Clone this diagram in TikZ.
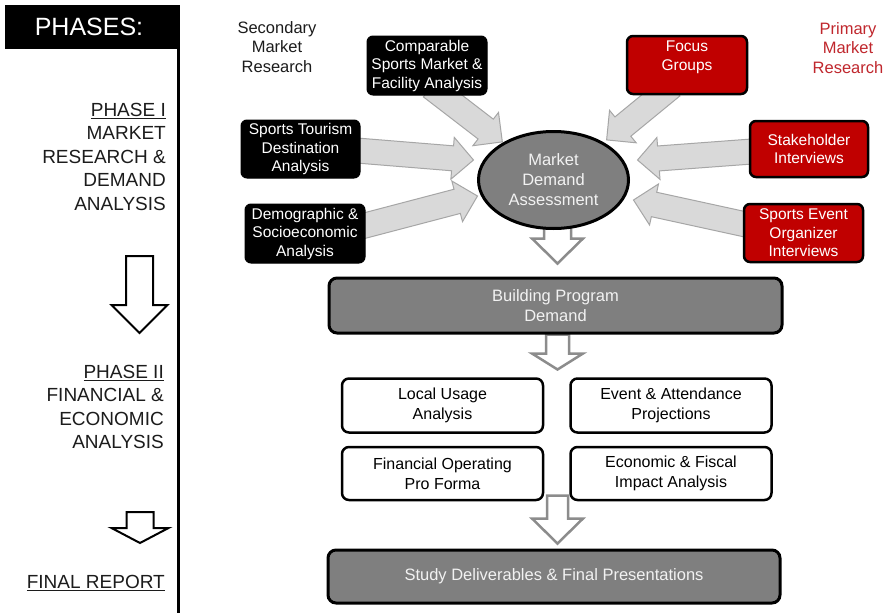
\documentclass[tikz,border=0pt]{standalone}
\usepackage{fontspec}
\setmainfont{Liberation Sans}
\usetikzlibrary{calc,shapes.geometric}
\pgfdeclarelayer{backfill}
\pgfdeclarelayer{background}
\pgfsetlayers{backfill,background,main}

\definecolor{redbox}{HTML}{C00000}
\definecolor{midgray}{HTML}{7F7F7F}
\definecolor{lightarrow}{HTML}{D9D9D9}
\definecolor{arrowedge}{HTML}{A6A6A6}
\definecolor{outlinegray}{HTML}{8C8C8C}
\definecolor{primred}{HTML}{C0272D}
\definecolor{inkgray}{HTML}{1C1C1C}

\newcommand\fsbox{\fontsize{15.5}{18.5}\selectfont}
\newcommand\fswhite{\fontsize{16}{20}\selectfont}
\newcommand\fsbig{\fontsize{16.5}{19.5}\selectfont}
\newcommand\fsphase{\fontsize{19}{23.5}\selectfont}

% #1 style, #2 start, #3 tip, #4 shaft half width, #5 head half width, #6 head length
\newcommand\bigarrow[6]{%
  \path let \p1=(#2), \p2=(#3) in \pgfextra{%
    \pgfmathparse{atan2(\y2-\y1,\x2-\x1)}\xdef\baang{\pgfmathresult}%
    \pgfmathparse{veclen(\x2-\x1,\y2-\y1)}\xdef\balen{\pgfmathresult}%
    \pgfmathparse{\balen-#6}\xdef\babase{\pgfmathresult}%
    \xdef\bax{\x1}\xdef\bay{\y1}};
  \begin{scope}[shift={(\bax,\bay)},rotate=\baang]
    \draw[#1] (0pt,#4pt) -- (\babase pt,#4pt) -- (\babase pt,#5pt) -- (\balen pt,0pt)
      -- (\babase pt,-#5pt) -- (\babase pt,-#4pt) -- (0pt,-#4pt) -- cycle;
  \end{scope}}

\tikzset{
  darkbox/.style={draw=black, fill=black, rounded corners=6pt, line width=1pt,
    text=white, align=center, inner sep=0pt, font=\fsbox},
  redbx/.style={draw=black, fill=redbox, rounded corners=6pt, line width=2.5pt,
    text=white, align=center, inner sep=0pt, font=\fsbox},
  whitebox/.style={draw=black, fill=white, rounded corners=7pt, line width=2.5pt,
    text=black, align=center, inner sep=0pt, font=\fswhite,
    minimum width=201pt, minimum height=54pt},
  graybox/.style={draw=black, fill=midgray, rounded corners=8pt, line width=3pt,
    text=white!95!black, align=center, inner sep=0pt, font=\fsbig},
  blockarr/.style={fill=lightarrow, draw=arrowedge, line width=1pt, line join=miter},
  outlinearr/.style={fill=white, draw=outlinegray, line width=2.5pt, line join=miter},
  leftarr/.style={fill=white, draw=black, line width=2pt, line join=miter},
  phasetext/.style={align=right, inner sep=0pt, text=inkgray, font=\fsphase, anchor=north east},
  headtext/.style={align=center, inner sep=0pt, font=\fsbig}
}

\begin{document}
\begin{tikzpicture}[x=1pt,y=-1pt]
\useasboundingbox (0,0) rectangle (888,613);
\begin{pgfonlayer}{backfill}
\fill[white] (0,0) rectangle (888,613);
\end{pgfonlayer}

% left panel
\fill[black] (5,5) rectangle (180,49);
\node[text=white, inner sep=0pt, font=\fontsize{25}{30}\selectfont] (phases) at (89,27) {PHASES:};
\draw[black, line width=3.5pt] (178.5,47) -- (178.5,613);

\node[phasetext] (ph1) at (166,103) {\underline{PHASE I}\\MARKET\\RESEARCH \&\\DEMAND\\ANALYSIS};
\node[phasetext] (ph2) at (164,365) {\underline{PHASE II}\\FINANCIAL \&\\ECONOMIC\\ANALYSIS};
\node[phasetext] (ph3) at (165,575) {\underline{FINAL REPORT}};

\coordinate (la1) at (139.5,256);
\coordinate (la2) at (139.5,333);
\coordinate (lb1) at (140,512);
\coordinate (lb2) at (140,543);
\bigarrow{leftarr}{la1}{la2}{13.5}{28}{28}
\bigarrow{leftarr}{lb1}{lb2}{13.5}{28.5}{15}

% headings
\node[headtext, text=inkgray] (sec) at (277,47) {Secondary\\Market\\Research};
\node[headtext, text=primred] (prim) at (848,48) {Primary\\Market\\Research};

% secondary research boxes
\node[darkbox, minimum width=120pt, minimum height=59pt] (comp) at (427,65.5)
  {Comparable\\Sports Market \&\\Facility Analysis};
\node[darkbox, minimum width=119pt, minimum height=58pt] (sts) at (300.5,149)
  {Sports Tourism\\Destination\\Analysis};
\node[darkbox, minimum width=120pt, minimum height=59pt] (demo) at (305,233.5)
  {Demographic \&\\Socioeconomic\\Analysis};

% primary research boxes
\node[redbx, minimum width=120pt, minimum height=58pt] (focus) at (687,65) {};
\node[text=white, align=center, inner sep=0pt, font=\fsbox] (focustxt) at (687,57.5) {Focus\\Groups};
\node[redbx, minimum width=118pt, minimum height=56pt] (stake) at (809,149)
  {Stakeholder\\Interviews};
\node[redbx, minimum width=119pt, minimum height=58pt] (sev) at (803.5,233)
  {Sports Event\\Organizer\\Interviews};

% centre ellipse
\node[ellipse, draw=black, fill=midgray, line width=3pt, minimum width=150pt,
  minimum height=97pt, inner sep=0pt, text=white!95!black, align=center,
  font=\fontsize{16.5}{20}\selectfont] (mda) at (553.5,180) {Market\\Demand\\Assessment};

% building program
\node[graybox, minimum width=453pt, minimum height=55pt] (bpd) at (555.5,305.5)
  {Building Program\\Demand};

% phase II boxes
\node[whitebox] (local) at (442.5,405.5) {Local Usage\\Analysis};
\node[whitebox] (event) at (671,405.5) {Event \& Attendance\\Projections};
\node[whitebox, minimum height=53pt] (fin) at (442.5,473.5) {Financial Operating\\Pro Forma};
\node[whitebox, minimum height=53pt] (econ) at (671,473.5) {Economic \& Fiscal\\Impact Analysis};

% final
\node[graybox, minimum width=452pt, minimum height=53pt] (study) at (554,576.5)
  {Study Deliverables \& Final Presentations};

% arrows behind
\begin{pgfonlayer}{background}
\bigarrow{blockarr}{$(comp.south)+(4,-8.5)$}{$(mda.center)+(-51,-38)$}{12.5}{21}{21}
\bigarrow{blockarr}{$(sts.east)+(-10,1)$}{$(mda.center)+(-80,-20)$}{12.5}{21}{21}
\bigarrow{blockarr}{$(demo.east)+(-10,-5.5)$}{$(mda.center)+(-76,16)$}{12.5}{21}{21}
\bigarrow{blockarr}{$(focus.south)+(-15,-9)$}{$(mda.center)+(53,-40)$}{12.5}{21}{21}
\bigarrow{blockarr}{$(stake.west)+(10,2)$}{$(mda.center)+(84,-20)$}{12.5}{21}{21}
\bigarrow{blockarr}{$(sev.west)+(10,-7)$}{$(mda.center)+(80,20)$}{12.5}{21}{21}
\bigarrow{outlinearr}{$(mda.south)+(4,-5)$}{$(bpd.north)+(2,-13)$}{13.5}{25.5}{25}
\bigarrow{outlinearr}{$(bpd.south)+(2,0)$}{$(bpd.south)+(2,35)$}{11.5}{25.5}{16}
\bigarrow{outlinearr}{$(study.north)+(3.5,-53)$}{$(study.north)+(3.5,-5)$}{10.5}{25.5}{25}
\end{pgfonlayer}
\end{tikzpicture}
\end{document}
